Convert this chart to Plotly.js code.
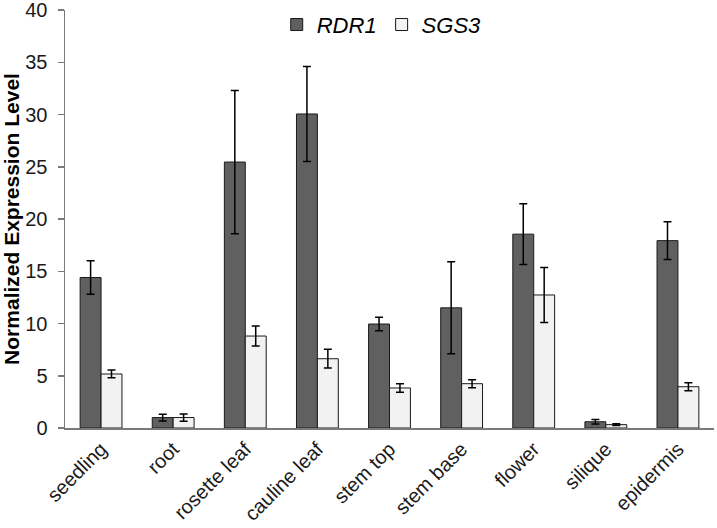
<!DOCTYPE html>
<html>
<head>
<meta charset="utf-8">
<script src="https://cdn.plot.ly/plotly-3.0.1.min.js"></script>
<style>html,body{margin:0;padding:0;background:#fff;}#chart{width:717px;height:528px;}</style>
</head>
<body>
<div id="chart"></div>
<script>
const categories = ["seedling","root","rosette leaf","cauline leaf","stem top","stem base","flower","silique","epidermis"];
const rdr1 = [14.4, 1.0, 25.45, 30.05, 9.95, 11.5, 18.55, 0.6, 17.93];
const rdr1Err = [1.6, 0.32, 6.85, 4.55, 0.65, 4.4, 2.9, 0.21, 1.8];
const sgs3 = [5.17, 1.0, 8.8, 6.63, 3.83, 4.24, 12.73, 0.32, 3.95];
const sgs3Err = [0.37, 0.35, 0.95, 0.9, 0.4, 0.38, 2.63, 0.08, 0.38];
const yTicks = [0,5,10,15,20,25,30,35,40];

const errStyle = {type:'data', visible:true, color:'#000', thickness:1.5, width:4};
const traces = [
  {type:'bar', name:'RDR1', x:categories, y:rdr1,
   error_y:Object.assign({array:rdr1Err}, errStyle),
   marker:{color:'#606060', line:{color:'#1a1a1a', width:1}}},
  {type:'bar', name:'SGS3', x:categories, y:sgs3,
   error_y:Object.assign({array:sgs3Err}, errStyle),
   marker:{color:'#f2f2f2', line:{color:'#1a1a1a', width:1}}}
];
const layout = {
  width:717, height:528,
  margin:{l:65, r:3, t:10, b:100},
  paper_bgcolor:'#fff', plot_bgcolor:'#fff',
  font:{family:'"Liberation Sans", Arial, sans-serif', color:'#1a1a1a'},
  barmode:'group', bargap:0.42, bargroupgap:0,
  showlegend:true,
  legend:{orientation:'h', x:0.488, xanchor:'center', y:1.015, yanchor:'top',
          font:{size:22, style:'italic', color:'#000'}, bgcolor:'rgba(0,0,0,0)', itemwidth:30},
  xaxis:{type:'category', range:[-0.5, 8.5], tickangle:-45, ticks:'',
         showline:true, linecolor:'#7a7a7a', linewidth:1.5, showgrid:false,
         tickfont:{size:20, color:'#1a1a1a'}, zeroline:false, fixedrange:true, automargin:false},
  yaxis:{range:[0,40], tickvals:yTicks, ticks:'outside', ticklen:6, tickcolor:'#7a7a7a', tickwidth:1.5,
         showline:true, linecolor:'#7a7a7a', linewidth:1.5, showgrid:false, zeroline:false,
         ticklabelstandoff:6, ticklabeloverflow:'allow', automargin:false,
         tickfont:{size:20, color:'#1a1a1a'},
         title:{text:'<b>Normalized Expression Level</b>', font:{size:21, color:'#000'}, standoff:13}}
};
Plotly.newPlot('chart', traces, layout, {staticPlot:true, displayModeBar:false});
</script>
</body>
</html>
